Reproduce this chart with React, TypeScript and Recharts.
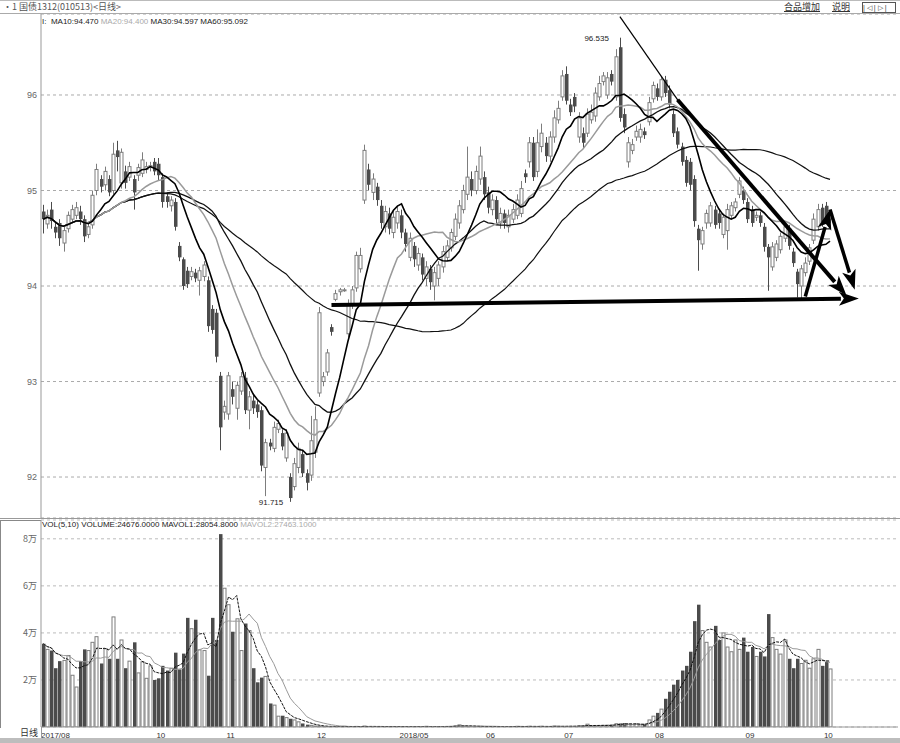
import React from "react";
import {
  Bar,
  CartesianGrid,
  ComposedChart,
  Line,
  ReferenceDot,
  ReferenceLine,
  XAxis,
  YAxis,
} from "recharts";

// daily candles (price in yuan)
const opens = [
  94.78, 94.65, 94.8, 94.62, 94.66, 94.45, 94.6, 94.7, 94.74, 94.78,
  94.7, 94.54, 94.64, 95.0, 95.12, 95.06, 95.12, 95.0, 95.42, 95.08,
  95.2, 95.14, 95.12, 95.16, 95.18, 95.22, 95.24, 95.3, 95.28, 95.14,
  94.94, 94.84, 94.88, 94.42, 94.28, 94.16, 94.1, 94.14, 94.06, 94.1,
  94.06, 93.76, 93.72, 93.06, 92.68, 92.66, 92.92, 92.72, 92.9, 93.04,
  92.7, 92.8, 92.76, 92.7, 92.1, 92.36, 92.3, 92.5, 92.46, 92.2,
  92.0, 91.9, 92.1, 92.24, 92.04, 92.02, 92.26, 92.88, 93.0, 93.1,
  93.57, 93.86, 93.94, 93.96, 93.5, 93.8, 93.98, 94.18, 94.9, 95.22,
  94.98, 95.04, 94.84, 94.62, 94.76, 94.56, 94.66, 94.74, 94.56, 94.3,
  94.42, 94.22, 94.3, 94.08, 94.18, 94.0, 94.08, 94.2, 94.3, 94.4,
  94.52, 94.66, 94.8, 94.96, 95.12, 95.0, 95.12, 95.14, 94.98, 94.8,
  94.9, 94.66, 94.76, 94.62, 94.7, 94.74, 94.76, 95.18, 95.3, 95.5,
  95.2, 95.46, 95.5, 95.36, 95.56, 95.74, 95.98, 96.22, 95.9, 95.98,
  95.56, 95.6, 95.6, 95.74, 95.78, 95.98, 96.14, 96.0, 96.22, 95.98,
  96.5, 95.8, 95.3, 95.42, 95.56, 95.56, 95.62, 95.72, 95.96, 96.07,
  95.98, 96.16, 96.05, 95.8, 95.62, 95.46, 95.32, 95.3, 95.12, 94.6,
  94.44, 94.66, 94.66, 94.8, 94.76, 94.54, 94.58, 94.74, 94.82, 94.96,
  95.0, 94.88, 94.8, 94.72, 94.74, 94.62, 94.41, 94.2, 94.3, 94.38,
  94.5, 94.6, 94.36, 94.15, 94.0, 94.14, 94.26, 94.48, 94.62, 94.82,
  94.84, 94.7,
];
const highs = [
  94.85, 94.8, 94.88, 94.66, 94.7, 94.62, 94.78, 94.85, 94.88, 94.84,
  94.74, 94.66, 95.0, 95.28, 95.16, 95.25, 95.16, 95.5, 95.52, 95.44,
  95.26, 95.3, 95.16, 95.28, 95.4, 95.3, 95.3, 95.34, 95.34, 95.18,
  94.98, 94.94, 94.92, 94.46, 94.3, 94.2, 94.2, 94.18, 94.2, 94.26,
  94.1, 93.8, 93.76, 93.1, 92.8, 93.1, 93.0, 93.0, 93.1, 93.1,
  92.9, 92.86, 92.8, 92.74, 92.4, 92.4, 92.58, 92.6, 92.5, 92.5,
  92.04, 92.2, 92.36, 92.28, 92.08, 92.64, 92.74, 93.78, 93.1, 93.34,
  93.6, 93.96, 93.98, 93.98, 93.86, 94.0, 94.36, 94.4, 95.48, 95.28,
  95.18, 95.08, 94.9, 94.84, 94.82, 94.8, 94.84, 94.8, 94.6, 94.56,
  94.46, 94.4, 94.34, 94.26, 94.22, 94.2, 94.26, 94.42, 94.48, 94.6,
  94.76, 94.9, 95.06, 95.46, 95.2, 95.26, 95.46, 95.2, 95.04, 94.96,
  94.94, 94.82, 94.8, 94.8, 94.86, 94.96, 95.1, 95.22, 95.56, 95.56,
  95.64, 95.7, 95.56, 95.62, 95.84, 95.94, 96.26, 96.3, 95.96, 96.02,
  95.82, 95.66, 95.86, 95.9, 96.08, 96.2, 96.24, 96.24, 96.26, 96.48,
  96.6, 95.86, 95.56, 95.54, 95.68, 95.7, 95.66, 95.98, 96.14, 96.12,
  96.2, 96.2, 96.1, 95.84, 95.66, 95.5, 95.36, 95.34, 95.16, 94.64,
  94.62, 94.8, 94.88, 94.84, 94.8, 94.76, 94.86, 94.88, 94.92, 95.14,
  95.04, 94.92, 94.84, 94.78, 94.78, 94.66, 94.44, 94.46, 94.48, 94.56,
  94.66, 94.64, 94.4, 94.18, 94.22, 94.3, 94.44, 94.76, 94.86, 94.86,
  94.88, 94.78,
];
const lows = [
  94.55, 94.6, 94.6, 94.5, 94.42, 94.36, 94.56, 94.66, 94.7, 94.64,
  94.46, 94.5, 94.6, 94.95, 94.98, 95.0, 94.94, 94.96, 95.2, 95.02,
  95.02, 95.1, 94.8, 95.1, 95.14, 95.18, 95.2, 95.16, 95.1, 94.82,
  94.82, 94.78, 94.58, 94.26, 93.96, 93.98, 94.06, 94.04, 93.9, 94.05,
  93.52, 93.5, 93.2, 92.28, 92.6, 92.6, 92.76, 92.6, 92.86, 92.66,
  92.5, 92.66, 92.62, 92.06, 91.8, 92.28, 92.26, 92.46, 92.28, 92.16,
  91.74, 91.86, 92.04, 92.0, 91.86, 91.96, 92.2, 92.84, 92.95, 93.06,
  93.48, 93.84, 93.9, 93.94, 93.46, 93.76, 93.94, 94.14, 94.86, 95.0,
  94.9, 94.84, 94.6, 94.56, 94.54, 94.5, 94.6, 94.5, 94.36, 94.26,
  94.2, 94.16, 94.06, 94.0, 93.96, 93.85, 94.0, 94.14, 94.26, 94.36,
  94.48, 94.6, 94.76, 94.9, 94.94, 94.96, 95.06, 94.9, 94.76, 94.74,
  94.64, 94.6, 94.6, 94.56, 94.66, 94.7, 94.72, 95.08, 95.24, 95.1,
  95.14, 95.4, 95.3, 95.3, 95.5, 95.7, 95.94, 95.9, 95.78, 95.82,
  95.5, 95.44, 95.56, 95.7, 95.72, 95.94, 96.1, 95.96, 96.1, 95.94,
  95.72, 95.6, 95.24, 95.38, 95.52, 95.5, 95.54, 95.68, 95.92, 95.94,
  95.94, 95.98, 95.86, 95.56, 95.44, 95.26, 95.04, 95.0, 94.62, 94.16,
  94.38, 94.6, 94.62, 94.6, 94.6, 94.5, 94.38, 94.7, 94.78, 94.92,
  94.86, 94.66, 94.62, 94.68, 94.62, 94.36, 93.95, 94.16, 94.26, 94.34,
  94.46, 94.38, 94.2, 93.88, 93.86, 94.1, 94.22, 94.44, 94.58, 94.62,
  94.66, 94.66,
];
const closes = [
  94.7, 94.74, 94.68, 94.56, 94.5, 94.58, 94.74, 94.8, 94.82, 94.7,
  94.52, 94.62, 94.95, 95.22, 95.04, 95.2, 94.98, 95.38, 95.35, 95.4,
  95.08, 95.25, 94.98, 95.24, 95.32, 95.25, 95.26, 95.2, 95.16, 94.88,
  94.88, 94.9, 94.62, 94.3, 94.0, 94.02, 94.15, 94.08, 94.16, 94.22,
  93.58, 93.54, 93.26, 92.52, 92.74, 93.06, 92.84, 92.96, 93.05, 92.7,
  92.84, 92.72, 92.68, 92.12, 92.36, 92.32, 92.52, 92.56, 92.32, 92.46,
  91.78, 92.14, 92.3, 92.04, 91.94, 92.38, 92.6, 93.72, 93.05, 93.3,
  93.52, 93.92, 93.96, 93.96, 93.8, 93.96, 94.32, 94.32, 95.42, 95.06,
  95.12, 94.9, 94.66, 94.78, 94.6, 94.72, 94.78, 94.56, 94.44, 94.5,
  94.28, 94.34, 94.12, 94.2, 94.04, 94.14, 94.22, 94.36, 94.42, 94.56,
  94.7, 94.84, 95.0, 95.14, 95.0, 95.2, 95.36, 94.96, 94.82, 94.9,
  94.7, 94.76, 94.66, 94.74, 94.8, 94.9, 95.02, 95.14, 95.5, 95.14,
  95.5, 95.6, 95.36, 95.56, 95.76, 95.86, 96.2, 95.94, 95.82, 95.88,
  95.76, 95.5, 95.8, 95.82, 96.02, 96.12, 96.2, 96.18, 96.14, 96.4,
  95.76, 95.66, 95.5, 95.48, 95.62, 95.64, 95.58, 95.92, 96.1, 95.98,
  96.16, 96.02, 95.9, 95.6, 95.48, 95.3, 95.08, 95.06, 94.68, 94.48,
  94.58, 94.76, 94.84, 94.64, 94.66, 94.72, 94.8, 94.84, 94.88, 95.1,
  94.9, 94.7, 94.66, 94.74, 94.66, 94.41, 94.3, 94.41, 94.44, 94.52,
  94.62, 94.42, 94.24, 94.02, 94.18, 94.24, 94.4, 94.7, 94.8, 94.67,
  94.7, 94.74,
];
const volumes = [
  35400, 33000, 32500, 25000, 28000, 28300, 30400, 22000, 17000, 28000,
  33000, 32500, 36000, 38400, 27000, 33300, 29000, 46800, 29000, 37000,
  25000, 28000, 36000, 23000, 27700, 20700, 26000, 20000, 20700, 26000,
  24000, 25000, 31600, 24500, 31200, 46400, 41800, 45600, 32800, 32500,
  21800, 46400, 37000, 82000, 59000, 52000, 40500, 46000, 32500, 44000,
  41000, 25000, 19000, 21000, 21500, 10000, 9300, 4600, 4800, 4000,
  3500, 3000, 2200, 1500, 1000, 700, 400, 300, 200, 150,
  200, 150, 100, 300, 200, 150, 250, 100, 400, 300,
  200, 150, 100, 200, 300, 150, 100, 200, 150, 100,
  200, 100, 150, 300, 200, 100, 150, 200, 250, 300,
  500, 900, 400, 300, 200, 150, 300, 200, 150, 100,
  150, 200, 100, 150, 200, 300, 250, 200, 300, 250,
  200, 300, 150, 200, 400, 300, 250, 300, 400, 350,
  500, 600, 1200, 400, 500, 600, 700, 800, 1000, 1400,
  1500, 1600, 1200, 1000, 1300, 900, 1200, 3000, 4600, 6000,
  7600, 12000, 15000, 18000, 20000, 24000, 26000, 32000, 45000, 52000,
  41000, 36000, 34000, 43000, 37000, 40000, 34000, 32000, 37000, 33000,
  38000, 32000, 34000, 30000, 32000, 30000, 48000, 38000, 33000, 31000,
  37000, 29000, 25000, 29000, 27000, 28357, 25000, 29000, 33000, 26000,
  27598, 24676,
];

const tickIdx = [0, 28, 45, 67, 87, 108, 127, 149, 171, 190];
const tickText = ["2017/08", "10", "11", "12", "2018/05", "06", "07", "08", "09", "10"];
const priceTicks = [92, 93, 94, 95, 96];
const volTicks = [20000, 40000, 60000, 80000];
const volTickText = ["2万", "4万", "6万", "8万"];

// hand-drawn arrows, in (candle index, price)
const arrows = [
  { a: [70, 93.8], b: [198, 93.87], w: 4, head: true },
  { a: [140, 96.82], b: [154, 95.95], w: 1.2, head: false },
  { a: [154, 95.95], b: [195, 93.9], w: 4, head: true },
  { a: [185, 93.89], b: [191, 94.8], w: 3.5, head: true },
  { a: [191, 94.8], b: [197, 93.96], w: 3.5, head: true },
];

const BLANK = 16;
const N = closes.length;
const FONT = "'Liberation Sans', Arial, sans-serif";
const CJK = "'Noto Sans CJK SC', sans-serif";

function movingAvg(src: number[], n: number) {
  return src.map((_, i) => {
    const s = Math.max(0, i - n + 1);
    let t = 0;
    for (let k = s; k <= i; k++) t += src[k];
    return t / (i - s + 1);
  });
}

const ma10 = movingAvg(closes, 10);
const ma20 = movingAvg(closes, 20);
const ma30 = movingAvg(closes, 30);
const ma60 = movingAvg(closes, 60);
const mv5 = movingAvg(volumes, 5);
const mv10 = movingAvg(volumes, 10);

const rows = Array.from({ length: N + BLANK }, (_, i) =>
  i < N
    ? {
        i,
        o: opens[i],
        h: highs[i],
        l: lows[i],
        c: closes[i],
        v: volumes[i],
        ma10: ma10[i],
        ma20: ma20[i],
        ma30: ma30[i],
        ma60: ma60[i],
        mv5: mv5[i],
        mv10: mv10[i],
      }
    : { i }
);

const UP = "#7d7d7d";
const DOWN = "#4b4b4b";

function Candle(props: any) {
  const { x, y, width, height, payload } = props;
  if (payload.h == null || !isFinite(y)) return <g />;
  const top = height < 0 ? y + height : y;
  const hh = Math.abs(height);
  const k = hh / (payload.h - payload.l);
  const yO = top + (payload.h - payload.o) * k;
  const yC = top + (payload.h - payload.c) * k;
  const cx = Math.round(x + width / 2) + 0.5;
  const up = payload.c >= payload.o;
  const col = up ? UP : DOWN;
  const bt = Math.min(yO, yC);
  const bh = Math.max(1, Math.abs(yO - yC));
  return (
    <g>
      <line x1={cx} x2={cx} y1={top} y2={top + hh} stroke={col} strokeWidth={1} />
      {up ? (
        <rect x={cx - 1.5} y={bt} width={3} height={bh} fill="#fff" stroke={col} strokeWidth={1} />
      ) : (
        <rect x={cx - 1.5} y={bt} width={3.5} height={bh} fill={col} />
      )}
    </g>
  );
}

function VolBar(props: any) {
  const { x, y, width, height, payload } = props;
  if (payload.v == null || !isFinite(y)) return <g />;
  const cx = Math.round(x + width / 2) + 0.5;
  const up = payload.c >= payload.o;
  return up ? (
    <rect x={cx - 1.5} y={y} width={3} height={height} fill="#fff" stroke={UP} strokeWidth={1} />
  ) : (
    <rect x={cx - 1.5} y={y} width={3.5} height={height} fill={DOWN} />
  );
}

const arrowShape = (w: number, head: boolean) => (p: any) => {
  const { x1, y1, x2, y2 } = p;
  const dx = x2 - x1;
  const dy = y2 - y1;
  const len = Math.hypot(dx, dy) || 1;
  const ux = dx / len;
  const uy = dy / len;
  const hl = head ? 20 : 0;
  const hw = 7;
  const bx = x2 - ux * hl;
  const by = y2 - uy * hl;
  return (
    <g>
      <line x1={x1} y1={y1} x2={bx + ux * 2} y2={by + uy * 2} stroke="#000" strokeWidth={w} />
      {head && (
        <polygon
          points={`${x2},${y2} ${bx - uy * hw},${by + ux * hw} ${bx + ux * 5},${by + uy * 5} ${bx + uy * hw},${by - ux * hw}`}
          fill="#000"
        />
      )}
    </g>
  );
};

function XTick(props: any) {
  const { x, y, payload } = props;
  const k = tickIdx.indexOf(payload.value);
  return (
    <text x={x - 2} y={y + 9} fontSize={8} fill="#333" fontFamily={FONT} textAnchor="start">
      {tickText[k]}
    </text>
  );
}

function VolTick(props: any) {
  const { x, y, payload } = props;
  const k = volTicks.indexOf(payload.value);
  return (
    <text x={x} y={y + 3} fontSize={9} fill="#666" fontFamily={CJK} textAnchor="end">
      {volTickText[k]}
    </text>
  );
}

const abs = (s: React.CSSProperties): React.CSSProperties => ({ position: "absolute", ...s });

export default function App() {
  return (
    <div style={abs({ left: 0, top: 0, width: 900, height: 743, background: "#fff", overflow: "hidden" })}>
      {/* title strip */}
      <div style={abs({ left: 0, top: 0, width: 900, height: 1, background: "#bbb" })} />
      <div style={abs({ left: 0, top: 13, width: 900, height: 1, background: "#aaa" })} />
      <div style={abs({ left: 3, top: 1, fontSize: 9, color: "#555", fontFamily: CJK, lineHeight: "12px" })}>
        ·1 国债1312(010513)&lt;日线&gt;
      </div>
      <div style={abs({ left: 784, top: 1, fontSize: 9, color: "#333", fontFamily: CJK, lineHeight: "12px", textDecoration: "underline" })}>
        合品增加
      </div>
      <div style={abs({ left: 832, top: 1, fontSize: 9, color: "#333", fontFamily: CJK, lineHeight: "12px", textDecoration: "underline" })}>
        说明
      </div>
      <div style={abs({ left: 862, top: 2, width: 32, height: 9, border: "1px solid #555", fontSize: 7, lineHeight: "9px", color: "#333", fontFamily: FONT, letterSpacing: 2 })}>
        |◁|▷|
      </div>

      {/* price panel */}
      <div style={abs({ left: 0, top: 13 })}>
        <ComposedChart width={900} height={505} data={rows} margin={{ top: 1, right: 2, bottom: 0, left: 0 }}>
          <CartesianGrid vertical={false} stroke="#aaa" strokeDasharray="3 3" />
          <XAxis dataKey="i" hide />
          <YAxis
            domain={[91.571, 96.848]}
            ticks={priceTicks}
            allowDataOverflow
            width={41}
            axisLine={{ stroke: "#999" }}
            tickLine={false}
            tickSize={3}
            tickMargin={1}
            tick={{ fontSize: 9, fill: "#666", fontFamily: FONT }}
          />
          <Bar
            dataKey={(d: any) => (d.h == null ? null : [d.l, d.h])}
            shape={Candle}
            isAnimationActive={false}
          />
          <Line dataKey="ma60" stroke="#111" strokeWidth={1.2} dot={false} isAnimationActive={false} />
          <Line dataKey="ma30" stroke="#111" strokeWidth={1.3} dot={false} isAnimationActive={false} />
          <Line dataKey="ma20" stroke="#9a9a9a" strokeWidth={1.5} dot={false} isAnimationActive={false} />
          <Line dataKey="ma10" stroke="#000" strokeWidth={1.6} dot={false} isAnimationActive={false} />
          <ReferenceDot
            x={140}
            y={96.6}
            r={1}
            fill="none"
            stroke="none"
            label={{ value: "96.535", position: "left", offset: 10, fontSize: 8, fill: "#222", fontFamily: FONT }}
          />
          <ReferenceDot
            x={60}
            y={91.74}
            r={1}
            fill="none"
            stroke="none"
            label={{ value: "91.715", position: "left", offset: 6, fontSize: 8, fill: "#222", fontFamily: FONT }}
          />
          {arrows.map((a, k) => (
            <ReferenceLine
              key={k}
              segment={[
                { x: a.a[0], y: a.a[1] },
                { x: a.b[0], y: a.b[1] },
              ]}
              stroke="#000"
              shape={arrowShape(a.w, a.head)}
            />
          ))}
        </ComposedChart>
      </div>
      <div style={abs({ left: 42, top: 17, fontSize: 8, fontFamily: FONT, color: "#222", whiteSpace: "pre", lineHeight: "10px" })}>
        {"I:  MA10:94.470 "}
        <span style={{ color: "#aaa" }}>{"MA20:94.400 "}</span>
        {"MA30:94.597 MA60:95.092"}
      </div>

      {/* separator + volume panel */}
      <div style={abs({ left: 0, top: 518, width: 900, height: 1, background: "#999" })} />
      <div style={abs({ left: 0, top: 520, width: 40, height: 207, borderLeft: "1px solid #888", borderTop: "1px solid #888" })} />
      <div style={abs({ left: 0, top: 519 })}>
        <ComposedChart width={900} height={222} data={rows} margin={{ top: 1, right: 2, bottom: 0, left: 0 }}>
          <CartesianGrid vertical={false} stroke="#bbb" strokeDasharray="3 3" />
          <XAxis
            dataKey="i"
            ticks={tickIdx}
            interval={0}
            height={14}
            axisLine={{ stroke: "#999" }}
            tickLine={false}
            tickSize={0}
            tick={(p: any) => <XTick {...p} />}
          />
          <YAxis
            domain={[0, 88000]}
            ticks={volTicks}
            allowDataOverflow
            width={41}
            axisLine={{ stroke: "#999" }}
            tickLine={false}
            tickSize={3}
            tickMargin={1}
            tick={(p: any) => <VolTick {...p} />}
          />
          <Bar dataKey="v" shape={VolBar} isAnimationActive={false} />
          <Line dataKey="mv10" stroke="#999" strokeWidth={1} dot={false} isAnimationActive={false} />
          <Line dataKey="mv5" stroke="#111" strokeWidth={1} strokeDasharray="3 1" dot={false} isAnimationActive={false} />
        </ComposedChart>
      </div>
      <div style={abs({ left: 42, top: 520, fontSize: 8, fontFamily: FONT, color: "#222", whiteSpace: "pre", lineHeight: "10px" })}>
        {"VOL(5,10) VOLUME:24676.0000 MAVOL1:28054.8000 "}
        <span style={{ color: "#aaa" }}>{"MAVOL2:27463.1000"}</span>
      </div>
      <div style={abs({ left: 41, top: 727, width: 1, height: 12, background: "#999" })} />
      <div style={abs({ left: 20, top: 727, fontSize: 9, fontFamily: CJK, color: "#333", lineHeight: "12px" })}>日线</div>
      <div style={abs({ left: 0, top: 738, width: 900, height: 5, background: "#bdbdbd" })} />
    </div>
  );
}
